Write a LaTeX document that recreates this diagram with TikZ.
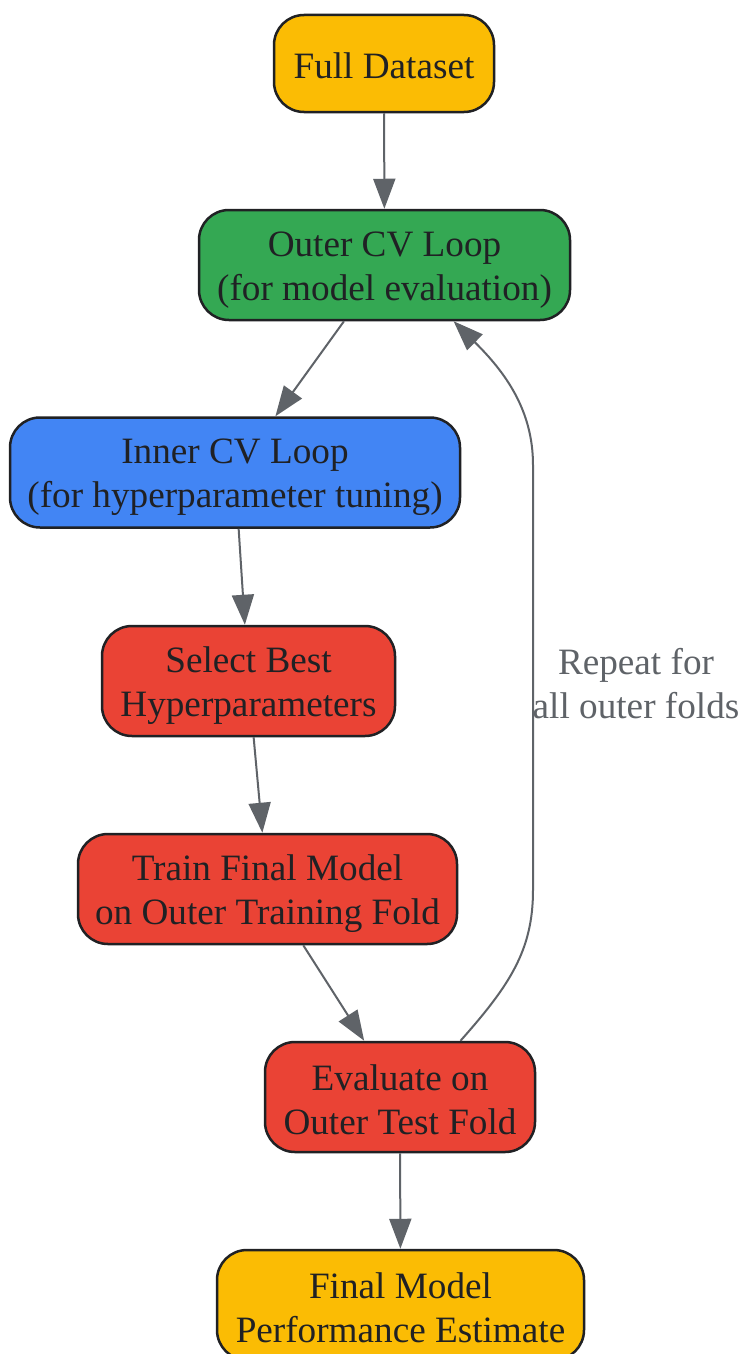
\documentclass[tikz,border=0pt]{standalone}
\usepackage{fontspec}
\setmainfont{Liberation Serif}
\usetikzlibrary{arrows.meta,calc}
\definecolor{gyellow}{HTML}{FBBC04}
\definecolor{ggreen}{HTML}{34A853}
\definecolor{gblue}{HTML}{4285F4}
\definecolor{gred}{HTML}{EA4335}
\definecolor{edgegray}{HTML}{5F6368}
\definecolor{inkdark}{HTML}{202124}
\begin{document}
\begin{tikzpicture}[x=1pt,y=-1pt,
  box/.style={draw=inkdark, line width=2.5pt, rounded corners=30pt, rectangle,
    inner sep=0pt},
  txt/.style={align=center, text=inkdark, inner sep=0pt,
    font=\fontsize{37.2}{44}\selectfont},
  flow/.style={draw=edgegray, line width=2pt,
    -{Triangle[length=30pt,width=22pt]}},
  lbl/.style={text=edgegray, align=center, inner sep=0pt,
    font=\fontsize{37.2}{44}\selectfont}]
\useasboundingbox (0,0) rectangle (742,1354);
\fill[white] (0,0) rectangle (742,1354);

\node[box, fill=gyellow, minimum width=220pt, minimum height=97pt] (full) at (384,63.5) {};
\node[box, fill=ggreen, minimum width=371pt, minimum height=110pt] (outer) at (384.5,265) {};
\node[box, fill=gblue, minimum width=450pt, minimum height=110pt] (inner) at (235,472.5) {};
\node[box, fill=gred, minimum width=293pt, minimum height=110pt] (select) at (248.5,681) {};
\node[box, fill=gred, minimum width=379pt, minimum height=110pt] (train) at (267.5,889) {};
\node[box, fill=gred, minimum width=270pt, minimum height=110pt] (eval) at (400,1097) {};
\node[box, fill=gyellow, minimum width=367pt, minimum height=110pt] (final) at (400.5,1305) {};

\node[txt] (fullt) at ($(full)+(0,2)$) {Full Dataset};
\node[txt] (outert) at ($(outer)+(0,5)$) {Outer CV Loop\\(for model evaluation)};
\node[txt] (innert) at ($(inner)+(0,5)$) {Inner CV Loop\\(for hyperparameter tuning)};
\node[txt] (selectt) at ($(select)+(0,5)$) {Select Best\\Hyperparameters};
\node[txt] (traint) at ($(train)+(0,5)$) {Train Final Model\\on Outer Training Fold};
\node[txt] (evalt) at ($(eval)+(0,3)$) {Evaluate on\\Outer Test Fold};
\node[txt] (finalt) at ($(final)+(0,3)$) {Final Model\\Performance Estimate};

\node[lbl] (rep) at (636,684) {Repeat for\\all outer folds};

\draw[flow] (full) -- (outer);
\draw[flow] (outer) -- (inner);
\draw[flow] (inner) -- (select);
\draw[flow] (select) -- (train);
\draw[flow] (train) -- (eval);
\draw[flow] (eval) -- (final);

\coordinate (loopstart) at ($(eval.north west)!0.722!(eval.north east)$);
\coordinate (loopend) at ($(outer.south west)!0.685!(outer.south east)$);
\draw[flow] (loopstart) .. controls (510,985) and (533,950) .. (533,890)
  -- (533,465) .. controls (533,410) and (505,372) .. (loopend);
\end{tikzpicture}
\end{document}
